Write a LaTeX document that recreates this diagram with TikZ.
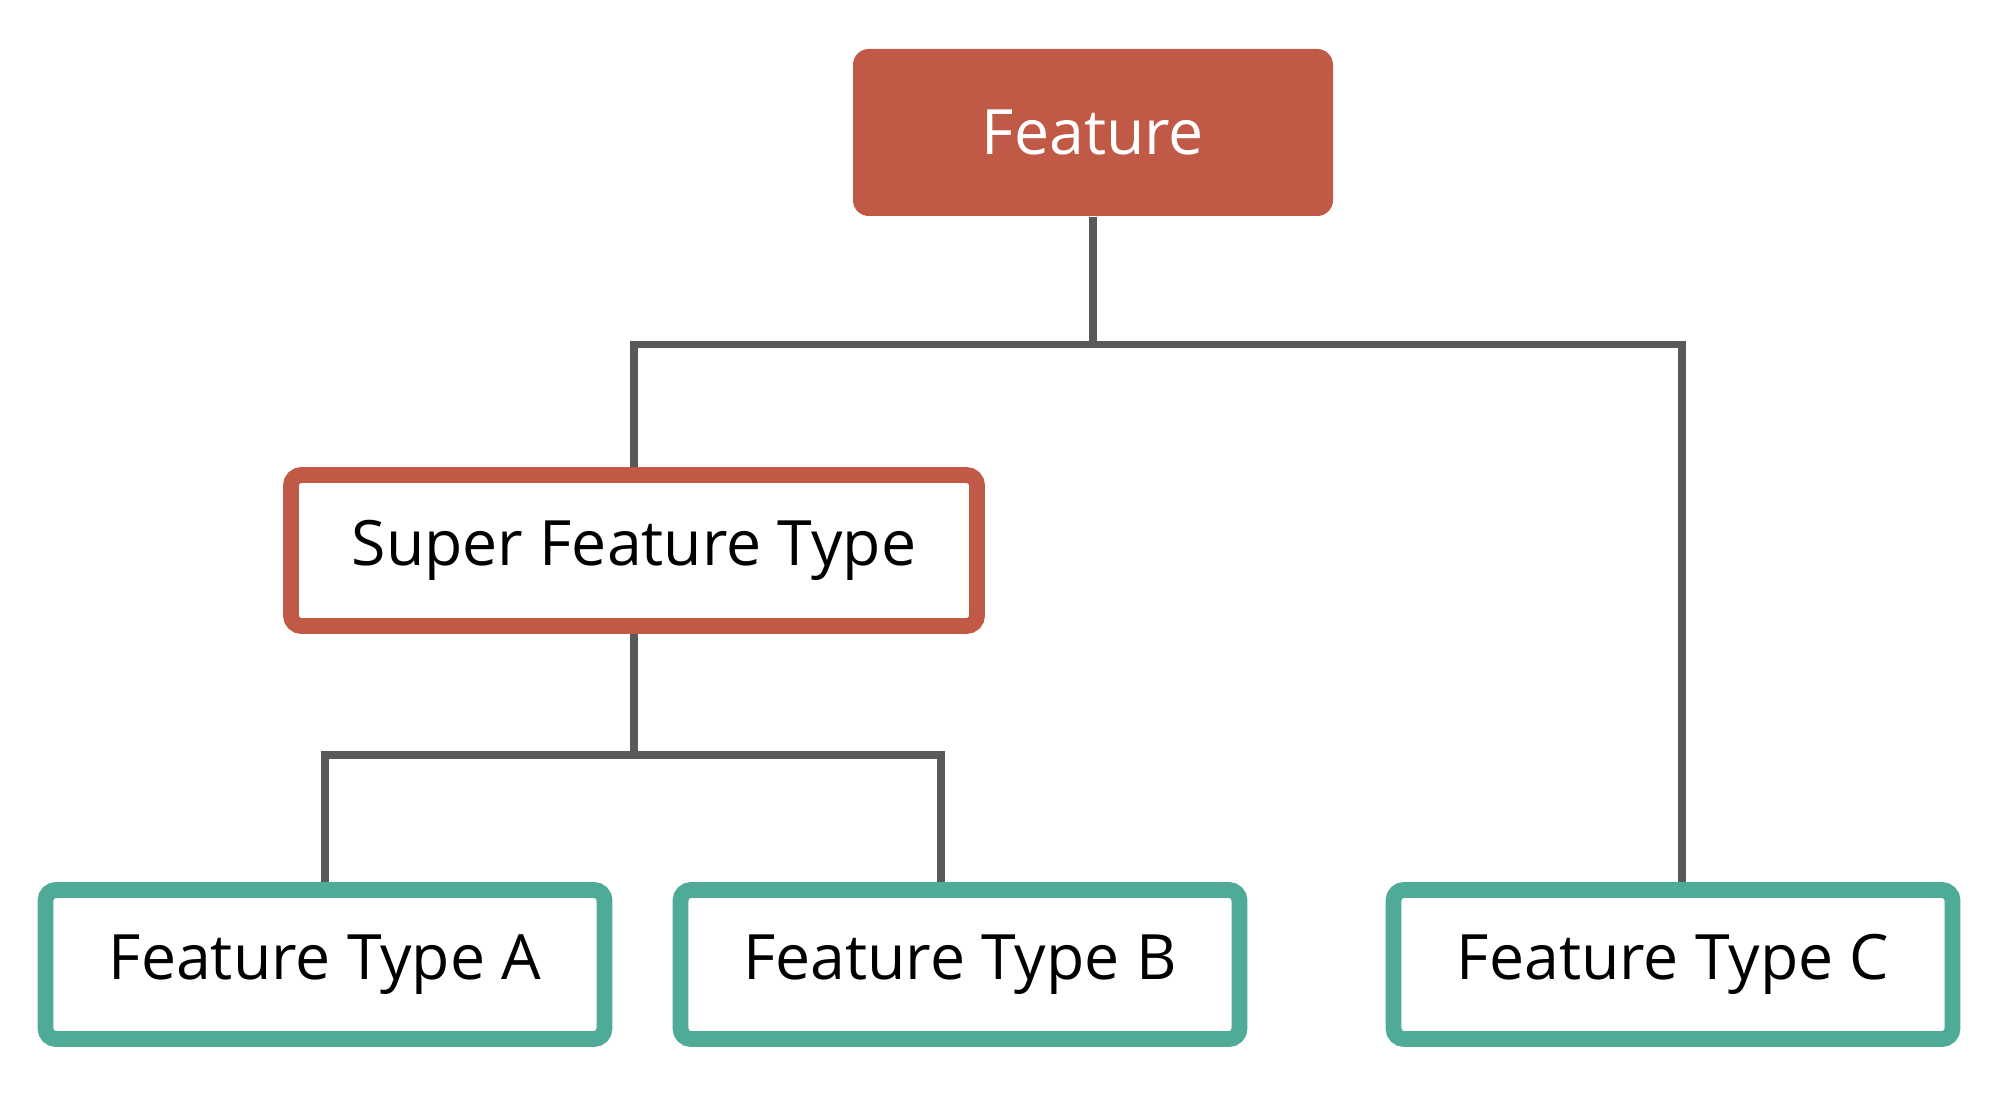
\documentclass[tikz,border=0pt]{standalone}
\usepackage{fontspec}
\setmainfont{Open Sans}
\usepackage{xcolor}
\definecolor{rust}{RGB}{192,89,70}
\definecolor{teal green}{RGB}{79,170,151}
\definecolor{link gray}{RGB}{89,89,89}

\begin{document}
\begin{tikzpicture}[
    font=\fontsize{17.8}{22}\selectfont,
    root/.style={fill=rust, text=white, rounded corners=4.5pt,
                 minimum width=4.80cm, minimum height=1.67cm},
    super box/.style={draw=rust, line width=4.5pt, fill=white, rounded corners=3pt,
                      minimum width=6.86cm, minimum height=1.51cm},
    type box/.style={draw=teal green, line width=4.5pt, fill=white, rounded corners=3pt,
                     minimum width=5.59cm, minimum height=1.49cm},
    link/.style={draw=link gray, line width=2.2pt}
  ]
    \useasboundingbox (0,0) rectangle (20.05,10.93);
    \node[root]      (feature) at (10.93,9.605) {Feature};
    \node[super box] (super)   at (6.34,5.425)  {Super Feature Type};
    \node[type box]  (type a)  at (3.25,1.285)  {Feature Type A};
    \node[type box]  (type b)  at (9.60,1.285)  {Feature Type B};
    \node[type box]  (type c)  at (16.73,1.285) {Feature Type C};
    \coordinate (top bus)    at (10.93,7.485);
    \coordinate (bottom bus) at (6.34,3.38);
    \draw[link] (feature) -- (top bus);
    \draw[link] (super) |- (top bus) -| ([xshift=0.9mm]type c.north);
    \draw[link] (super) -- (bottom bus);
    \draw[link] (type a) |- (bottom bus) -| ([xshift=-1.9mm]type b.north);
  \end{tikzpicture}
\end{document}
